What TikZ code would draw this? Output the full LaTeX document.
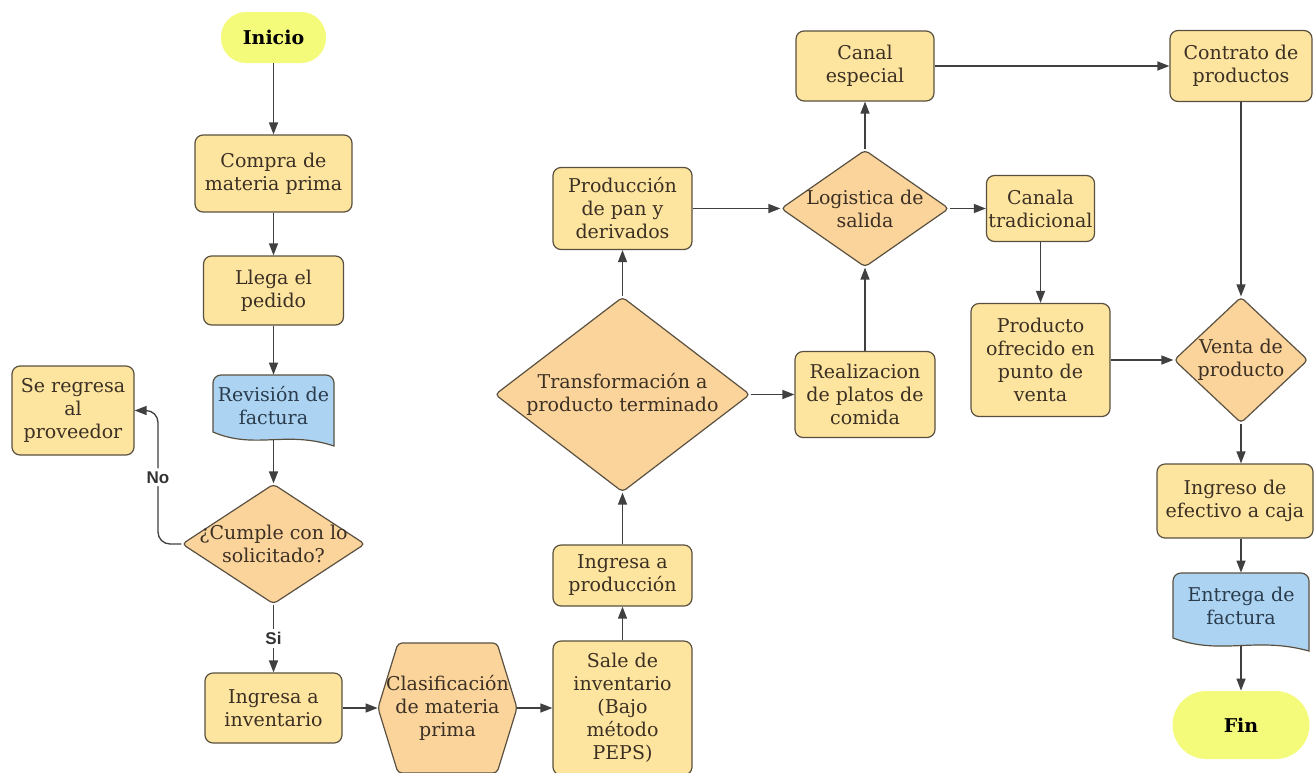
\documentclass[tikz,border=0pt]{standalone}
\usepackage{fontspec}
\setmainfont{DejaVu Serif}
\newfontfamily\lblfont{Liberation Sans}
\usetikzlibrary{arrows.meta,shapes.geometric,calc}
\definecolor{boxfill}{HTML}{FDE49F}
\definecolor{diafill}{HTML}{FBD49C}
\definecolor{docfill}{HTML}{ACD4F2}
\definecolor{termfill}{HTML}{F4FB7B}
\definecolor{bordc}{HTML}{5A5040}
\definecolor{txtc}{HTML}{3B3023}
\definecolor{doctxt}{HTML}{2A3B4C}
\definecolor{linec}{HTML}{404040}
\definecolor{lblc}{HTML}{333333}
\tikzset{
 fnt/.style={font=\fontsize{9.5}{11.5}\selectfont},
 box/.style={draw=bordc, fill=boxfill, rounded corners=4pt, line width=0.6pt, text=txtc, align=center, inner sep=1pt, fnt},
 wh/.style 2 args={minimum width=#1*0.5pt, minimum height=#2*0.5pt},
 dia/.style={diamond, draw=bordc, fill=diafill, line width=0.6pt, inner sep=0pt, rounded corners=2pt},
 holder/.style={rectangle, inner sep=0pt},
 txt/.style={text=txtc, align=center, inner sep=0pt, fnt},
 doctext/.style={text=doctxt, align=center, inner sep=0pt, fnt},
 docshape/.style={draw=bordc, fill=docfill, line width=0.6pt},
 hexshape/.style={draw=bordc, fill=diafill, line width=0.6pt, rounded corners=2pt},
 term/.style={fill=termfill, text=black, align=center, inner sep=0pt, font=\bfseries\fontsize{9.5}{11.5}\selectfont},
 conn/.style={draw=linec, line width=0.65pt, -{Triangle[length=6pt,width=4.5pt]}},
 lbl/.style={fill=white, text=lblc, inner sep=1.5pt, font=\lblfont\bfseries\fontsize{8.5}{10}\selectfont},
}
\begin{document}
\begin{tikzpicture}[x=0.5pt,y=-0.5pt]
\fill[white] (0,0) rectangle (1316,772);
\useasboundingbox (0,0) rectangle (1316,772);

% left column
\node[term, wh={105}{51}, rounded corners=12.5pt] (inicio) at (273.5,37.5) {Inicio};
\node[box, wh={157}{77}] (compra) at (273.5,173.5) {Compra de\\materia prima};
\node[box, wh={140}{69}] (llega) at (273.5,290.5) {Llega el\\pedido};
\node[holder, wh={121}{65}] (rev) at (273.5,407.5) {};
\draw[docshape] (213,432) [rounded corners=4pt] -- (213,375) -- (334,375) [sharp corners] -- (334,446)
  .. controls (286,430) and (255,450) .. (213,432) -- cycle;
\node[doctext] at (273.5,406) {Revisión de\\factura};
\node[dia, wh={183}{120}] (cumple) at (273.5,544) {};
\node[txt] at (cumple) {¿Cumple con lo\\solicitado?};
\node[box, wh={122}{89}] (regresa) at (73,410.5) {Se regresa\\al\\proveedor};
\node[box, wh={137}{70}] (inv) at (273.5,708) {Ingresa a\\inventario};
\coordinate (nc) at (158,410.5);

% hexagon
\node[holder, wh={139}{130}] (clas) at (447.5,708) {};
\draw[hexshape] (378,708) -- (398,643) -- (497,643) -- (517,708) -- (497,773) -- (398,773) -- cycle;
\node[txt] at (clas) {Clasificación\\de materia\\prima};

% middle column
\node[box, wh={139}{134}] (sale) at (622.5,708) {Sale de\\inventario\\(Bajo\\método\\PEPS)};
\node[box, wh={139}{61}] (ingprod) at (622.5,575.5) {Ingresa a\\producción};
\node[dia, wh={255}{195}] (transf) at (622.5,394.5) {};
\node[txt] at (transf) {Transformación a\\producto terminado};
\node[box, wh={139}{82}] (prod) at (622.5,208.5) {Producción\\de pan y\\derivados};

% logistics column
\node[dia, wh={168}{117}] (logis) at (865,208.5) {};
\node[txt] at (logis) {Logistica de\\salida};
\node[box, wh={138}{70}] (canal) at (865,66) {Canal\\especial};
\node[box, wh={140}{86}] (real) at (865,394.5) {Realizacion\\de platos de\\comida};

% right part
\node[box, wh={105}{66}] (canala) at (1040.5,208.5) {Canala\\tradicional};
\node[box, wh={139}{113}] (producto) at (1040.5,360) {Producto\\ofrecido en\\punto de\\venta};
\node[box, wh={142}{71}] (contrato) at (1241,66) {Contrato de\\productos};
\node[dia, wh={134}{126}] (venta) at (1241,360) {};
\node[txt] at (venta) {Venta de\\producto};
\node[box, wh={156}{74}] (ingreso) at (1235,501) {Ingreso de\\efectivo a caja};
\node[holder, wh={136}{73}] (ent) at (1241,609.5) {};
\draw[docshape] (1173,638) [rounded corners=4pt] -- (1173,573) -- (1309,573) [sharp corners] -- (1309,651)
  .. controls (1255,636) and (1221,656) .. (1173,638) -- cycle;
\node[doctext] at (1241,606) {Entrega de\\factura};
\node[term, wh={137}{68}, rounded corners=17pt] (fin) at (1241,725) {Fin};

% connectors
\draw[conn] (inicio) -- (compra);
\draw[conn] (compra) -- (llega);
\draw[conn] (llega) -- (rev.north);
\draw[conn] (rev.south) -- (cumple.north);
\draw[conn, rounded corners=6pt] (cumple.west) -| node[lbl, pos=0.75] {No} (nc) -- (regresa.east);
\draw[conn] (cumple.south) -- node[lbl] {Si} (inv.north);
\draw[conn] (inv.east) -- (clas.west);
\draw[conn] (clas.east) -- (sale.west);
\draw[conn] (sale.north) -- (ingprod.south);
\draw[conn] (ingprod.north) -- (transf.south);
\draw[conn] (transf.north) -- (prod.south);
\draw[conn] (transf.east) -- (real.west);
\draw[conn] (real.north) -- (logis.south);
\draw[conn] (prod.east) -- (logis.west);
\draw[conn] (logis.north) -- (canal.south);
\draw[conn] (logis.east) -- (canala.west);
\draw[conn] (canal.east) -- (contrato.west);
\draw[conn] (canala.south) -- (producto.north);
\draw[conn] (producto.east) -- (venta.west);
\draw[conn] (contrato.south) -- (venta.north);
\draw[conn] (venta.south) -- (venta.south |- ingreso.north);
\draw[conn] (venta.south |- ingreso.south) -- (ent.north);
\draw[conn] (ent.south) -- (fin.north);
\end{tikzpicture}
\end{document}
